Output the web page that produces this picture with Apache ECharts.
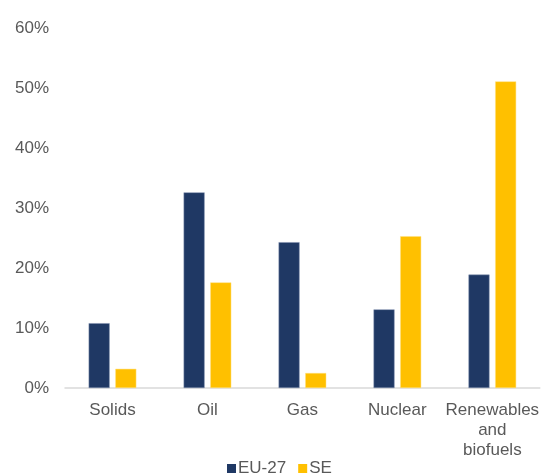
<!DOCTYPE html>
<html><head><meta charset="utf-8">
<script src="https://cdn.jsdelivr.net/npm/echarts@6/dist/echarts.min.js"></script>
<style>html,body{margin:0;padding:0;background:#fff}#c{width:542px;height:474px}</style>
</head><body><div id="c"></div>
<script>
const categories = ['Solids', 'Oil', 'Gas', 'Nuclear', 'Renewables\nand\nbiofuels'];
const eu27 = [10.8, 32.6, 24.3, 13.1, 18.9];
const se = [3.2, 17.6, 2.5, 25.3, 51.1];
const yTicks = [0, 10, 20, 30, 40, 50, 60];

const chart = echarts.init(document.getElementById('c'));
const font = 'Liberation Sans, Arial, sans-serif';
chart.setOption({
  animation: false,
  textStyle: { fontFamily: font },
  grid: { left: 65, right: 1, top: 28, bottom: 86, containLabel: false },
  legend: {
    top: 460, left: 227, padding: 0,
    itemWidth: 9, itemHeight: 9, itemGap: 12,
    icon: 'rect',
    itemStyle: { borderWidth: 0 },
    textStyle: { color: '#595959', fontSize: 17, fontFamily: font, padding: [0, 0, 0, -3] },
    data: ['EU-27', 'SE']
  },
  xAxis: {
    type: 'category', data: categories,
    axisLine: { lineStyle: { color: '#D9D9D9', width: 1.5 } },
    axisTick: { show: false },
    axisLabel: { color: '#595959', fontSize: 17, lineHeight: 20, margin: 12, interval: 0, fontFamily: font }
  },
  yAxis: {
    type: 'value', min: yTicks[0], max: yTicks[yTicks.length - 1], interval: 10,
    axisLine: { show: false }, axisTick: { show: false },
    splitLine: { show: false },
    axisLabel: { color: '#595959', fontSize: 17, margin: 16, formatter: v => v + '%', fontFamily: font }
  },
  series: [
    { name: 'EU-27', type: 'bar', data: eu27, barWidth: 21, barGap: '27%',
      itemStyle: { color: '#1F3864', borderColor: '#8090B0', borderWidth: 0.5 } },
    { name: 'SE', type: 'bar', data: se, barWidth: 21,
      itemStyle: { color: '#FFC000', borderColor: '#FFE080', borderWidth: 0.5 } }
  ]
});
</script></body></html>
